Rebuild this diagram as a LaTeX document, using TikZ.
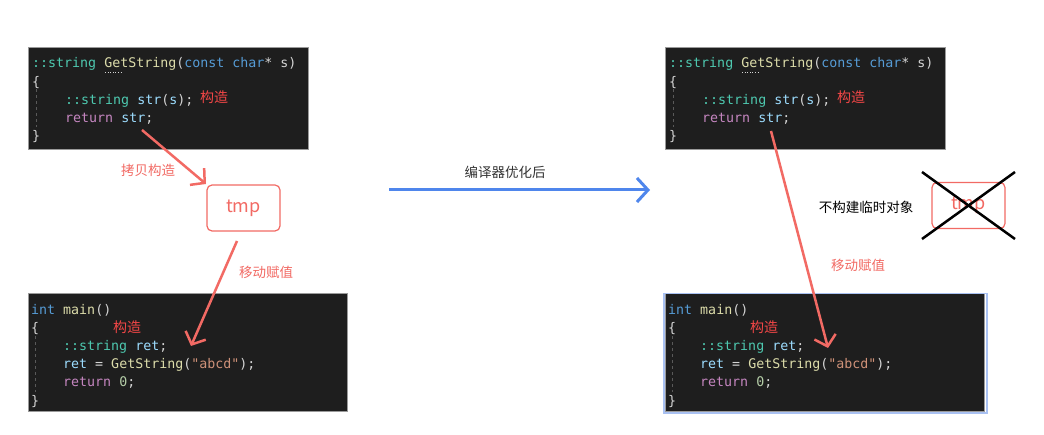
\documentclass[tikz,border=0pt]{standalone}
\usepackage{fontspec}
\usetikzlibrary{arrows.meta}
\newfontfamily\cjkfont{Noto Sans CJK SC}
\newfontfamily\codefont{DejaVu Sans Mono}

\definecolor{codebg}{HTML}{1E1E1E}
\definecolor{boxgray}{HTML}{9A9A9A}
\definecolor{plain}{HTML}{D4D4D4}
\definecolor{kwblue}{HTML}{569CD6}
\definecolor{typeteal}{HTML}{4EC9B0}
\definecolor{fnyellow}{HTML}{DCDCAA}
\definecolor{varblue}{HTML}{9CDCFE}
\definecolor{ctrlpurple}{HTML}{C586C0}
\definecolor{strorange}{HTML}{CE9178}
\definecolor{numgreen}{HTML}{B5CEA8}
\definecolor{guidegray}{HTML}{5A5A5A}
\definecolor{notered}{HTML}{F44747}
\definecolor{arrowred}{HTML}{F26A64}
\definecolor{optblue}{HTML}{4F86EC}
\definecolor{selblue}{HTML}{A9C1F2}
\definecolor{textgray}{HTML}{333333}

\begin{document}
\begin{tikzpicture}[x=1pt, y=-1pt,
    codebox/.style={draw=boxgray, fill=codebg, line width=0.8pt, anchor=north west, inner sep=0pt},
    codeline/.style={anchor=west, inner sep=0pt, yshift=-1.5pt, text=plain, font=\codefont\fontsize{13.3}{13.3}\selectfont},
    notetxt/.style={inner sep=0pt, text=notered, font=\cjkfont\fontsize{14}{14}\selectfont},
    annot/.style={inner sep=0pt, font=\cjkfont\fontsize{13.5}{14}\selectfont},
    guide/.style={draw=guidegray, dashed, line width=0.6pt},
    flow/.style={draw=arrowred, line width=2.5pt, -{Straight Barb[length=10pt,width=22pt]}},
    tmpbox/.style={draw=arrowred, line width=1.2pt, rounded corners=5pt, minimum width=73pt,
        minimum height=46pt, text=arrowred, font=\cjkfont\fontsize{18}{18}\selectfont}
]
    \useasboundingbox[fill=white] (0,0) rectangle (1044,435);

    % Code panels, before (left) and after (right)
    \foreach \side/\dx in {l/0, r/637} {
        \begin{scope}[xshift=\dx]
            % GetString
            \node[codebox, minimum width=280pt, minimum height=102pt] (get\side) at (28,47) {};
            \node[codeline] (get\side1) at (32,62) {\textcolor{typeteal}{::string} \textcolor{fnyellow}{GetString}(\textcolor{kwblue}{const} \textcolor{kwblue}{char}* s)};
            \node[codeline] (get\side2) at (32,81) {\{};
            \node[codeline] (get\side3) at (65,99) {\textcolor{typeteal}{::string} \textcolor{varblue}{str}(\textcolor{varblue}{s});};
            \node[codeline] (get\side4) at (65,117) {\textcolor{ctrlpurple}{return} \textcolor{varblue}{str};};
            \node[codeline] (get\side5) at (32,135) {\}};
            \node[notetxt] (getnote\side) at (214,97) {构造};
            \draw[plain, dotted, line width=0.6pt] (105,72.5) -- (121,72.5);
            \draw[guide] (36,89) -- (36,127);

            % main
            \node[codebox, minimum width=319pt, minimum height=118pt] (main\side) at (28,293) {};
            \node[codeline] (main\side1) at (31,309) {\textcolor{kwblue}{int} \textcolor{fnyellow}{main}()};
            \node[codeline] (main\side2) at (31,327) {\{};
            \node[codeline] (main\side3) at (63,345) {\textcolor{typeteal}{::string} \textcolor{varblue}{ret};};
            \node[codeline] (main\side4) at (63,363) {\textcolor{varblue}{ret} = \textcolor{fnyellow}{GetString}(\textcolor{strorange}{"abcd"});};
            \node[codeline] (main\side5) at (63,381) {\textcolor{ctrlpurple}{return} \textcolor{numgreen}{0};};
            \node[codeline] (main\side6) at (31,400) {\}};
            \node[notetxt] (mainnote\side) at (127,327) {构造};
            \draw[guide] (35,336) -- (35,392);
        \end{scope}
    }
    % selection frame round the right main panel
    \node[draw=selblue, line width=1.5pt, anchor=north west, minimum width=323pt, minimum height=119pt, inner sep=0pt] (mainsel) at (663,293) {};

    % Before: copy into tmp, then move
    \node[tmpbox] (tmp) at (243.5,208) {tmp};
    \coordinate (retl) at (142,130);
    \coordinate (tmpin) at (206,184);
    \coordinate (tmpout) at (237,241);
    \coordinate (retcall) at (191,346);
    \draw[flow] (retl) -- (tmpin);
    \draw[flow] (tmpout) -- (retcall);
    \node[annot, text=arrowred] (copylbl) at (148,170) {拷贝构造};
    \node[annot, text=arrowred] (movelbl) at (266,272) {移动赋值};

    % Optimisation arrow
    \coordinate (optfrom) at (389,190);
    \coordinate (optto) at (650,190);
    \draw[optblue, line width=3pt, -{Straight Barb[length=11pt,width=24pt]}] (optfrom) -- (optto);
    \node[annot, text=textgray] (optlbl) at (505,172) {编译器优化后};

    % After: no tmp, direct move
    \coordinate (retr) at (771,131);
    \coordinate (retcallr) at (828,348);
    \draw[flow] (retr) -- (retcallr);
    \node[annot, text=arrowred] (movelblr) at (858,265) {移动赋值};
    \node[annot, text=black] (notmp) at (866,207) {不构建临时对象};
    \node[tmpbox] (tmpx) at (968.5,205.5) {tmp};
    \coordinate (xa) at (922,172);
    \coordinate (xb) at (1015,239);
    \coordinate (xc) at (1015,172);
    \coordinate (xd) at (922,239);
    \draw[black, line width=2.5pt] (xa) -- (xb);
    \draw[black, line width=2.5pt] (xc) -- (xd);
\end{tikzpicture}
\end{document}
